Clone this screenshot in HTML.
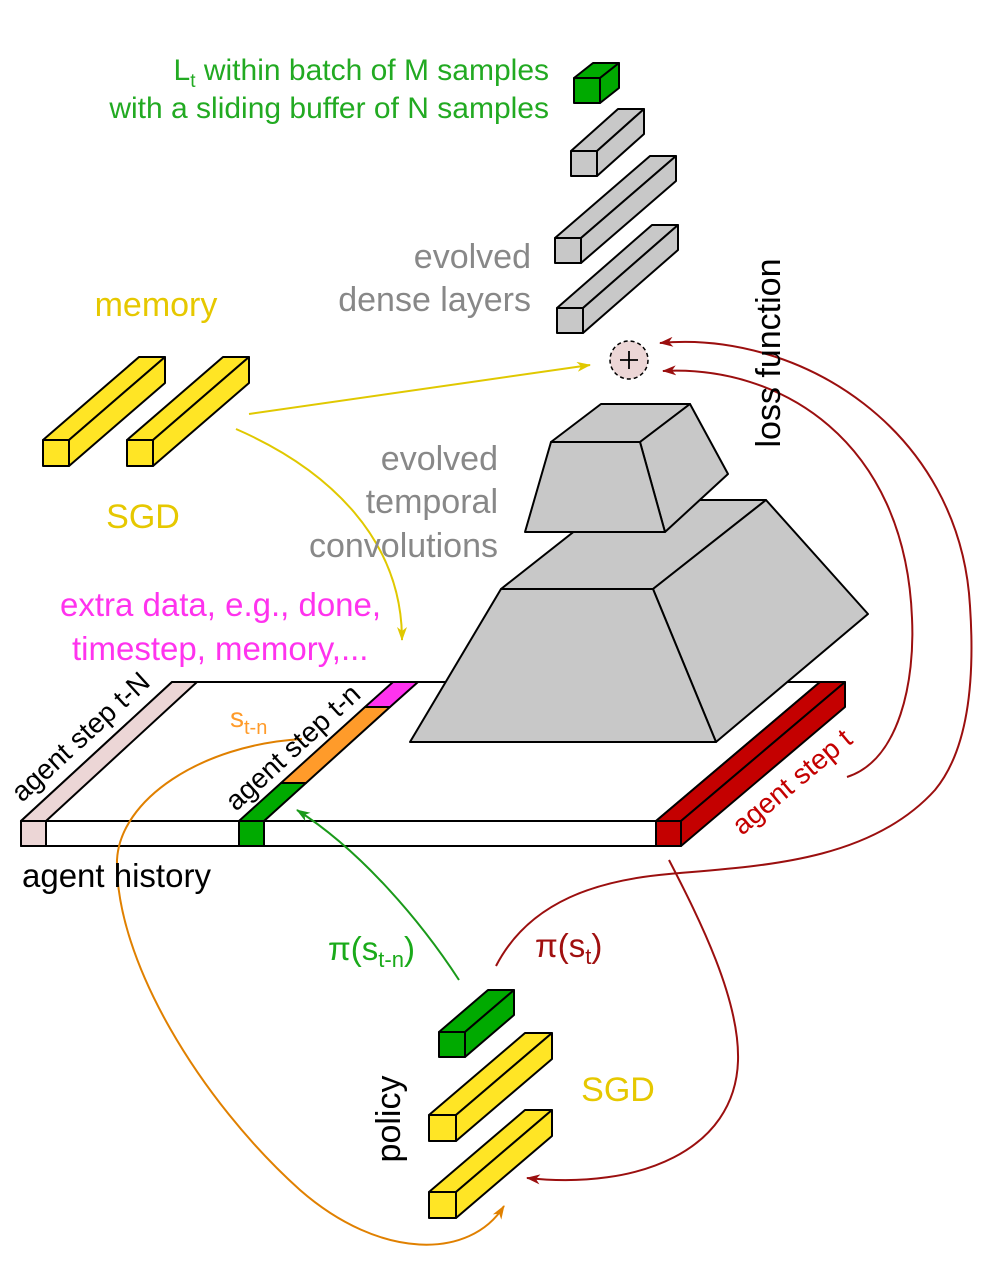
<!DOCTYPE html>
<html><head><meta charset="utf-8"><style>
html,body{margin:0;padding:0;background:#fff}
svg{display:block}
text{font-family:"Liberation Sans",sans-serif}
</style></head><body>
<svg width="986" height="1266" viewBox="0 0 986 1266" xmlns="http://www.w3.org/2000/svg">
<defs>
<marker id="ar" markerWidth="14" markerHeight="10" refX="13" refY="5" orient="auto" markerUnits="userSpaceOnUse"><path d="M0,0 L14,5 L0,10 L4,5 Z" fill="#9b0f0f"/></marker>
<marker id="ay" markerWidth="14" markerHeight="10" refX="13" refY="5" orient="auto" markerUnits="userSpaceOnUse"><path d="M0,0 L14,5 L0,10 L4,5 Z" fill="#e0c800"/></marker>
<marker id="ag" markerWidth="14" markerHeight="10" refX="13" refY="5" orient="auto" markerUnits="userSpaceOnUse"><path d="M0,0 L14,5 L0,10 L4,5 Z" fill="#1a9a1a"/></marker>
<marker id="ao" markerWidth="14" markerHeight="10" refX="13" refY="5" orient="auto" markerUnits="userSpaceOnUse"><path d="M0,0 L14,5 L0,10 L4,5 Z" fill="#e08000"/></marker>
</defs>
<g stroke="#000" stroke-width="2" stroke-linejoin="round">
<polygon points="21,821 656,821 820,682 172,682" fill="#fff"/>
<rect x="21" y="821" width="635" height="25" fill="#fff"/>
<polygon points="21,821 46,821 197,682 172,682" fill="#ecd6d6"/>
<rect x="21" y="821" width="25" height="25" fill="#ecd6d6"/>
<polygon points="239,821 264,821 306,783 281,783" fill="#00aa00"/>
<polygon points="281,783 306,783 390,707 365,707" fill="#ff9b2a"/>
<polygon points="365,707 390,707 418,682 393,682" fill="#ff33ee"/>
<rect x="239" y="821" width="25" height="25" fill="#00aa00"/>
<polygon points="656,821 681,821 845,682 820,682" fill="#c40000"/>
<polygon points="681,821 845,682 845,707 681,846" fill="#c40000"/>
<rect x="656" y="821" width="25" height="25" fill="#c40000"/>
<polygon points="501,589 653,589 766,500 614,500" fill="#c8c8c8"/>
<polygon points="653,589 766,500 868,614 716,742" fill="#c8c8c8"/>
<polygon points="501,589 653,589 716,742 410,742" fill="#c8c8c8"/>
<polygon points="551,442 640,442 690,404 601,404" fill="#c8c8c8"/>
<polygon points="640,442 690,404 728,474 665,532" fill="#c8c8c8"/>
<polygon points="551,442 640,442 665,532 525,532" fill="#c8c8c8"/>
<polygon points="574,78 600,78 619,63 593,63" fill="#00aa00"/>
<polygon points="600,78 619,63 619,88 600,103" fill="#00aa00"/>
<rect x="574" y="78" width="26" height="25" fill="#00aa00"/>
<polygon points="571,151 597,151 644,109 618,109" fill="#c8c8c8"/>
<polygon points="597,151 644,109 644,134 597,176" fill="#c8c8c8"/>
<rect x="571" y="151" width="26" height="25" fill="#c8c8c8"/>
<polygon points="555,238 581,238 676,156 650,156" fill="#c8c8c8"/>
<polygon points="581,238 676,156 676,181 581,263" fill="#c8c8c8"/>
<rect x="555" y="238" width="26" height="25" fill="#c8c8c8"/>
<polygon points="557,308 583,308 678,225 652,225" fill="#c8c8c8"/>
<polygon points="583,308 678,225 678,250 583,333" fill="#c8c8c8"/>
<rect x="557" y="308" width="26" height="25" fill="#c8c8c8"/>
<polygon points="43,440 69,440 165,357 139,357" fill="#ffe525"/>
<polygon points="69,440 165,357 165,383 69,466" fill="#ffe525"/>
<rect x="43" y="440" width="26" height="26" fill="#ffe525"/>
<polygon points="127,440 153,440 249,357 223,357" fill="#ffe525"/>
<polygon points="153,440 249,357 249,383 153,466" fill="#ffe525"/>
<rect x="127" y="440" width="26" height="26" fill="#ffe525"/>
<polygon points="439,1032 465,1032 514,990 488,990" fill="#00aa00"/>
<polygon points="465,1032 514,990 514,1015 465,1057" fill="#00aa00"/>
<rect x="439" y="1032" width="26" height="25" fill="#00aa00"/>
<polygon points="429,1115 456,1115 552,1033 525,1033" fill="#ffe525"/>
<polygon points="456,1115 552,1033 552,1059 456,1141" fill="#ffe525"/>
<rect x="429" y="1115" width="27" height="26" fill="#ffe525"/>
<polygon points="429,1192 456,1192 552,1110 525,1110" fill="#ffe525"/>
<polygon points="456,1192 552,1110 552,1136 456,1218" fill="#ffe525"/>
<rect x="429" y="1192" width="27" height="26" fill="#ffe525"/>
</g>
<circle cx="629" cy="360" r="19" fill="#ecd6d6" stroke="#000" stroke-width="1.5" stroke-dasharray="4,3"/>
<path d="M620,360 H638 M629,351 V369" stroke="#000" stroke-width="1.8"/>
<g fill="none" stroke-width="2">
<path d="M249,414 L590,365" stroke="#e0c800" marker-end="url(#ay)"/>
<path d="M236,429 C330,470 402,540 402,640" stroke="#e0c800" marker-end="url(#ay)"/>
<path d="M496,966 C530,900 600,880 669,874 C760,866 870,862 935,790 C968,750 975,680 970,606 C960,430 800,330 660,343" stroke="#9b0f0f" marker-end="url(#ar)"/>
<path d="M847,777 C900,760 915,680 912,618 C905,440 780,365 663,371" stroke="#9b0f0f" marker-end="url(#ar)"/>
<path d="M669,860 C700,920 740,1000 738,1061 C735,1150 640,1190 527,1178" stroke="#9b0f0f" marker-end="url(#ar)"/>
<path d="M459,980 C420,920 360,850 297,810" stroke="#1a9a1a" marker-end="url(#ag)"/>
<path d="M302,739 C200,745 120,800 117,860 C115,960 200,1100 300,1190 C380,1260 470,1260 504,1206" stroke="#e08000" marker-end="url(#ao)"/>
</g>
<g font-size="30" fill="#22aa22" text-anchor="end">
<text x="549" y="80">L<tspan font-size="19" dy="7">t</tspan><tspan dy="-7"> within batch of  M samples</tspan></text>
<text x="549" y="118">with a sliding buffer of N samples</text>
</g>
<g font-size="34" fill="#888" text-anchor="end">
<text x="531" y="268">evolved</text>
<text x="531" y="311">dense layers</text>
<text x="498" y="470">evolved</text>
<text x="498" y="513">temporal</text>
<text x="498" y="557">convolutions</text>
</g>
<text x="156" y="316" font-size="34" fill="#e6c800" text-anchor="middle">memory</text>
<text x="143" y="528" font-size="34" fill="#e6c800" text-anchor="middle">SGD</text>
<text x="618" y="1101" font-size="34" fill="#e6c800" text-anchor="middle">SGD</text>
<text transform="translate(780,353) rotate(-90)" font-size="34" fill="#000" text-anchor="middle">loss function</text>
<text transform="translate(400,1119) rotate(-90)" font-size="34" fill="#000" text-anchor="middle">policy</text>
<text x="60" y="616" font-size="33" fill="#ff33ee">extra data, e.g., done,</text>
<text x="72" y="660" font-size="33" fill="#ff33ee">timestep, memory,...</text>
<text x="22" y="887" font-size="33" fill="#000">agent history</text>
<text x="230" y="727" font-size="28" fill="#ff9b2a">s<tspan font-size="20" dy="7">t-n</tspan></text>
<text x="328" y="960" font-size="33" fill="#1aaa1a">π(s<tspan font-size="22" dy="7">t-n</tspan><tspan dy="-7">)</tspan></text>
<text x="535" y="957" font-size="33" fill="#a01010">π(s<tspan font-size="22" dy="7">t</tspan><tspan dy="-7">)</tspan></text>
<text transform="translate(22,803) rotate(-42.5)" font-size="28" fill="#000">agent step t-N</text>
<text transform="translate(236,812) rotate(-42.5)" font-size="28" fill="#000">agent step t-n</text>
<text transform="translate(742,836) rotate(-40)" font-size="28" fill="#c40000">agent step t</text>
</svg>
</body></html>
